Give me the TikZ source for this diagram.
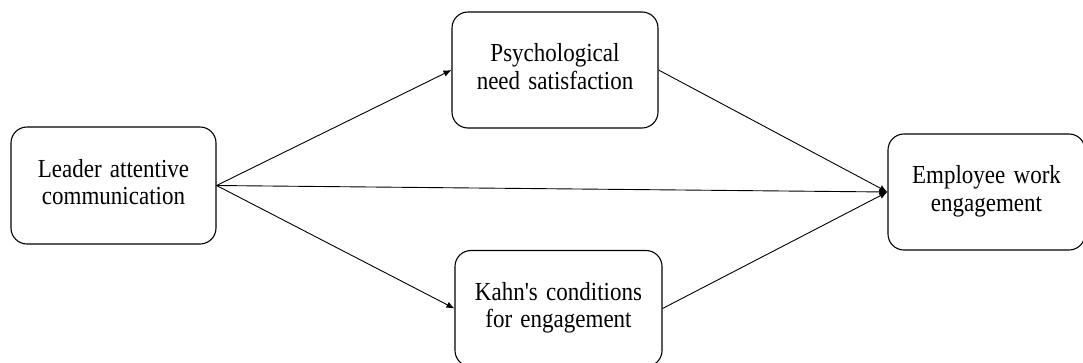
\documentclass[tikz,border=0pt]{standalone}
\usepackage{fontspec}
\setmainfont{Liberation Serif}
\usetikzlibrary{arrows.meta}
\newcommand{\twolines}[2]{\scalebox{1}[1.13]{\spaceskip=0.36em\relax\begin{tabular}{@{}c@{}}#1\\#2\end{tabular}}}
\tikzset{
  concept/.style={draw=black, line width=1.1pt, rounded corners=16pt,
    inner sep=0pt, font=\fontsize{23}{24.5}\selectfont},
  link/.style={line width=0.9pt, -{Latex[length=8pt,width=6.5pt]}}
}
\begin{document}
\begin{tikzpicture}[x=1pt,y=-1pt]
  \useasboundingbox (0,0) rectangle (1083,362);
  \begin{scope}
    \clip (0,0) rectangle (1083,362);
    \node[concept, minimum width=205pt, minimum height=117pt] (lead) at (113.5,185.5)
      {\twolines{Leader attentive}{communication}};
    \node[concept, minimum width=206pt, minimum height=116pt] (need) at (555,70)
      {\twolines{Psychological}{need satisfaction}};
    \node[concept, minimum width=207pt, minimum height=116pt] (kahn) at (558.5,308.5)
      {\twolines{Kahn\textquotesingle s conditions}{for engagement}};
    \node[concept, minimum width=197pt, minimum height=116pt] (work) at (986.5,192)
      {\twolines{Employee work}{engagement}};
    \draw[link] (lead.east) -- (need.west);
    \draw[link] (lead.east) -- (kahn.west);
    \draw[link] (lead.east) -- (work.west);
    \draw[link] (need.east) -- (work.west);
    \draw[link] (kahn.east) -- (work.west);
  \end{scope}
\end{tikzpicture}
\end{document}
